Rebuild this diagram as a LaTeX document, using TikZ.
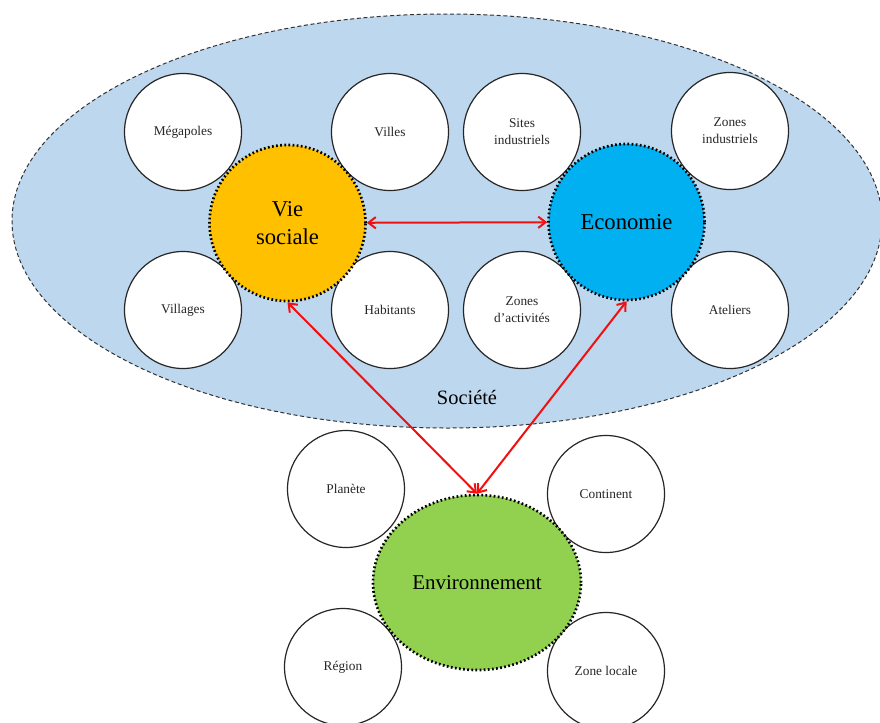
\documentclass[tikz,border=0pt]{standalone}
\usepackage{fontspec}
\setmainfont{Liberation Serif}
\usetikzlibrary{shapes.geometric,arrows.meta}
\definecolor{socblue}{HTML}{BDD7EE}
\definecolor{vieyellow}{HTML}{FFC000}
\definecolor{ecoblue}{HTML}{00B0F0}
\definecolor{envgreen}{HTML}{92D050}
\definecolor{arrred}{HTML}{F01010}
\tikzset{
  small/.style={circle,draw=black!85,line width=0.9pt,fill=white,minimum size=87.75pt,inner sep=0pt,
    font=\fontsize{10pt}{12.75pt}\selectfont,text=black!85,align=center},
  dotborder/.style={draw=black,line width=2pt,dash pattern=on 1.3pt off 1.8pt},
  big/.style={circle,dotborder,minimum size=117pt,inner sep=0pt,
    font=\fontsize{17pt}{21pt}\selectfont,align=center},
  arr/.style={draw=arrred,line width=1.5pt,{Straight Barb[length=5.5pt,width=8.5pt]}-{Straight Barb[length=5.5pt,width=8.5pt]}},
}
\begin{document}
\begin{tikzpicture}[x=0.75pt,y=-0.75pt]
\useasboundingbox (0,0) rectangle (880,722);
\clip (0,0) rectangle (880,722);
\fill[white] (0,0) rectangle (880,722);
% Societe ellipse
\node[ellipse,draw=black!80,fill=socblue,line width=0.75pt,dash pattern=on 3pt off 2pt,
  minimum width=652.5pt,minimum height=310.5pt,inner sep=0pt] (soc) at (447,221) {};
% small circles in society
\node[small] (meg) at (183,132) {Mégapoles};
\node[small] (vil) at (390,132) {Villes};
\node[small] (sit) at (522,132) {Sites\\industriels};
\node[small] (zin) at (730,131) {Zones\\industriels};
\node[small] (vlg) at (183,310) {Villages};
\node[small] (hab) at (390,310) {Habitants};
\node[small] (zac) at (522,310) {Zones\\d’activités};
\node[small] (ate) at (730,310) {Ateliers};
% big circles
\node[big,fill=vieyellow] (vie) at (287.5,223) {Vie\\sociale};
\node[big,fill=ecoblue] (eco) at (626.5,222) {Economie};
% lower circles
\node[small] (pla) at (346,489) {Planète};
\node[small] (con) at (606,494) {Continent};
\node[small] (reg) at (343,667) {Région};
\node[small] (zlo) at (606,671) {Zone locale};
% environment
\node[ellipse,dotborder,fill=envgreen,
  minimum width=156pt,minimum height=131.25pt,inner sep=0pt,
  font=\fontsize{15.75pt}{19pt}\selectfont] (env) at (477,582.5) {Environnement};
% connectors
\draw[arr] (vie) -- (eco);
\draw[arr] (vie.south) -- (env.north);
\draw[arr] (eco.south) -- (env.north);
% label
\node[font=\fontsize{15.3pt}{18pt}\selectfont] (soclab) at (467,397) {Société};
\end{tikzpicture}
\end{document}
